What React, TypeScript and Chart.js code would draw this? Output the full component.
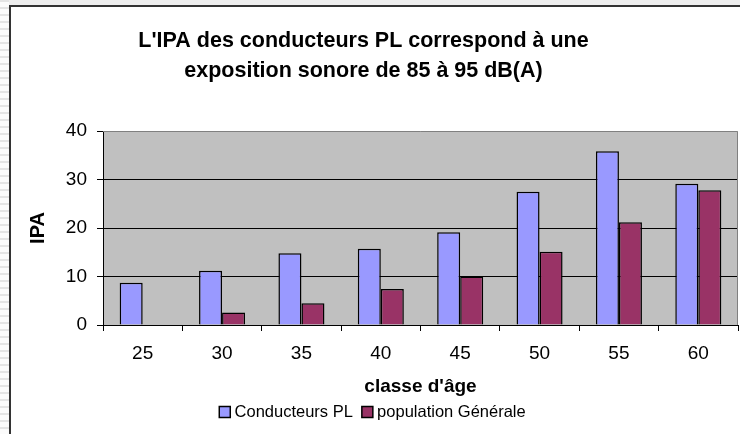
import { useEffect, useRef } from "react";
import { Chart, registerables } from "chart.js";

Chart.register(...registerables);

const categories = ["25", "30", "35", "40", "45", "50", "55", "60"];
const conducteursPL = [8.7, 11.2, 14.8, 15.7, 19.1, 27.5, 35.8, 29.1];
const populationGenerale = [null, 2.6, 4.5, 7.4, 10.0, 15.1, 21.2, 27.8];
const yTickValues = [0, 10, 20, 30, 40];
const titleLines = [
  "L'IPA des conducteurs PL correspond à une",
  "exposition sonore de 85 à 95 dB(A)",
];
const seriesNames = ["Conducteurs PL", "population Générale"];
const xTitle = "classe d'âge";
const yTitle = "IPA";

const FONT = "Arial, 'Liberation Sans', sans-serif";

const plotPlugin = {
  id: "plotPlugin",
  beforeDraw(chart: any) {
    const { ctx, chartArea: a } = chart;
    ctx.save();
    ctx.fillStyle = "#C0C0C0";
    ctx.fillRect(a.left, a.top, a.right - a.left, a.bottom - a.top);
    ctx.restore();
  },
  beforeDatasetsDraw(chart: any) {
    const { ctx, chartArea: a } = chart;
    ctx.save();
    ctx.strokeStyle = "#808080";
    ctx.lineWidth = 1;
    ctx.beginPath();
    ctx.moveTo(a.left, a.top + 0.5);
    ctx.lineTo(a.right - 0.5, a.top + 0.5);
    ctx.lineTo(a.right - 0.5, a.bottom);
    ctx.stroke();
    ctx.restore();
  },
  afterDraw(chart: any) {
    const { ctx } = chart;
    ctx.save();
    ctx.fillStyle = "#000";
    ctx.font = `bold 21.5px ${FONT}`;
    ctx.textAlign = "center";
    ctx.textBaseline = "middle";
    const cx = chart.width / 2 - 12;
    titleLines.forEach((line, i) => {
      ctx.fillText(line, cx, 34.5 + i * 30);
    });
    ctx.restore();
  },
};

export default function App() {
  const canvasRef = useRef<HTMLCanvasElement | null>(null);

  useEffect(() => {
    document.body.style.margin = "0";
    const canvas = canvasRef.current;
    if (!canvas) return;
    const chart = new Chart(canvas, {
      type: "bar",
      data: {
        labels: categories,
        datasets: [
          {
            label: seriesNames[0],
            data: conducteursPL,
            backgroundColor: "#9999FF",
            borderColor: "#000000",
            borderWidth: 1.5,
            categoryPercentage: 0.58,
            barPercentage: 1.0,
          },
          {
            label: seriesNames[1],
            data: populationGenerale as any,
            backgroundColor: "#993366",
            borderColor: "#000000",
            borderWidth: 1.5,
            categoryPercentage: 0.58,
            barPercentage: 1.0,
          },
        ],
      },
      options: {
        animation: false,
        responsive: false,
        maintainAspectRatio: false,
        layout: { padding: { top: 124, right: 2, bottom: 3.75, left: 0 } },
        plugins: {
          title: { display: false },
          tooltip: { enabled: false },
          legend: {
            position: "bottom",
            labels: {
              usePointStyle: true,
              pointStyle: "rect",
              boxWidth: 3,
              boxHeight: 11,
              padding: 13,
              color: "#000",
              font: { family: FONT, size: 16.5 },
            },
          },
        },
        scales: {
          x: {
            grid: {
              drawOnChartArea: false,
              drawTicks: true,
              tickLength: 6,
              tickColor: "#000",
              offset: true,
            },
            border: { color: "#000", width: 1 },
            ticks: {
              color: "#000",
              padding: 11,
              font: { family: FONT, size: 19 },
            },
            title: {
              display: true,
              text: xTitle,
              color: "#000",
              font: { family: FONT, size: 19, weight: "bold" },
              padding: { top: 0, bottom: -7.6 },
            },
            afterFit(scale: any) {
              scale.height = 65.75;
            },
          },
          y: {
            min: 0,
            max: 40,
            afterBuildTicks(scale: any) {
              scale.ticks = yTickValues.map((v) => ({ value: v }));
            },
            grid: {
              color: (c: any) => (c.tick && c.tick.value === 40 ? "rgba(0,0,0,0)" : "#000"),
              tickColor: "#000",
              tickLength: 6,
              lineWidth: 1,
            },
            border: { color: "#000", width: 1 },
            ticks: {
              color: "#000",
              padding: 10,
              font: { family: FONT, size: 19 },
            },
            title: {
              display: true,
              text: yTitle,
              color: "#000",
              font: { family: FONT, size: 20, weight: "bold" },
              padding: { top: 15, bottom: 0 },
            },
            afterFit(scale: any) {
              scale.width = 92;
            },
          },
        },
      },
      plugins: [plotPlugin],
    });
    return () => chart.destroy();
  }, []);

  return (
    <div
      style={{
        position: "fixed",
        left: 0,
        top: 0,
        width: 740,
        height: 434,
        overflow: "hidden",
        background: "#eeeeee",
      }}
    >
      <div
        style={{
          position: "absolute",
          left: 0,
          top: 0,
          width: 9,
          height: 434,
          background: "repeating-linear-gradient(to bottom, #e4e4e4 0px, #e4e4e4 2px, #fbfbfb 2px, #fbfbfb 7px)",
        }}
      />
      <div
        style={{
          position: "absolute",
          left: 9,
          top: 5,
          width: 731,
          height: 429,
          background: "#ffffff",
          borderLeft: "2px solid #333333",
          borderTop: "2px solid #333333",
          boxSizing: "border-box",
        }}
      >
        <canvas ref={canvasRef} width={729} height={427} style={{ display: "block" }} />
      </div>
    </div>
  );
}
